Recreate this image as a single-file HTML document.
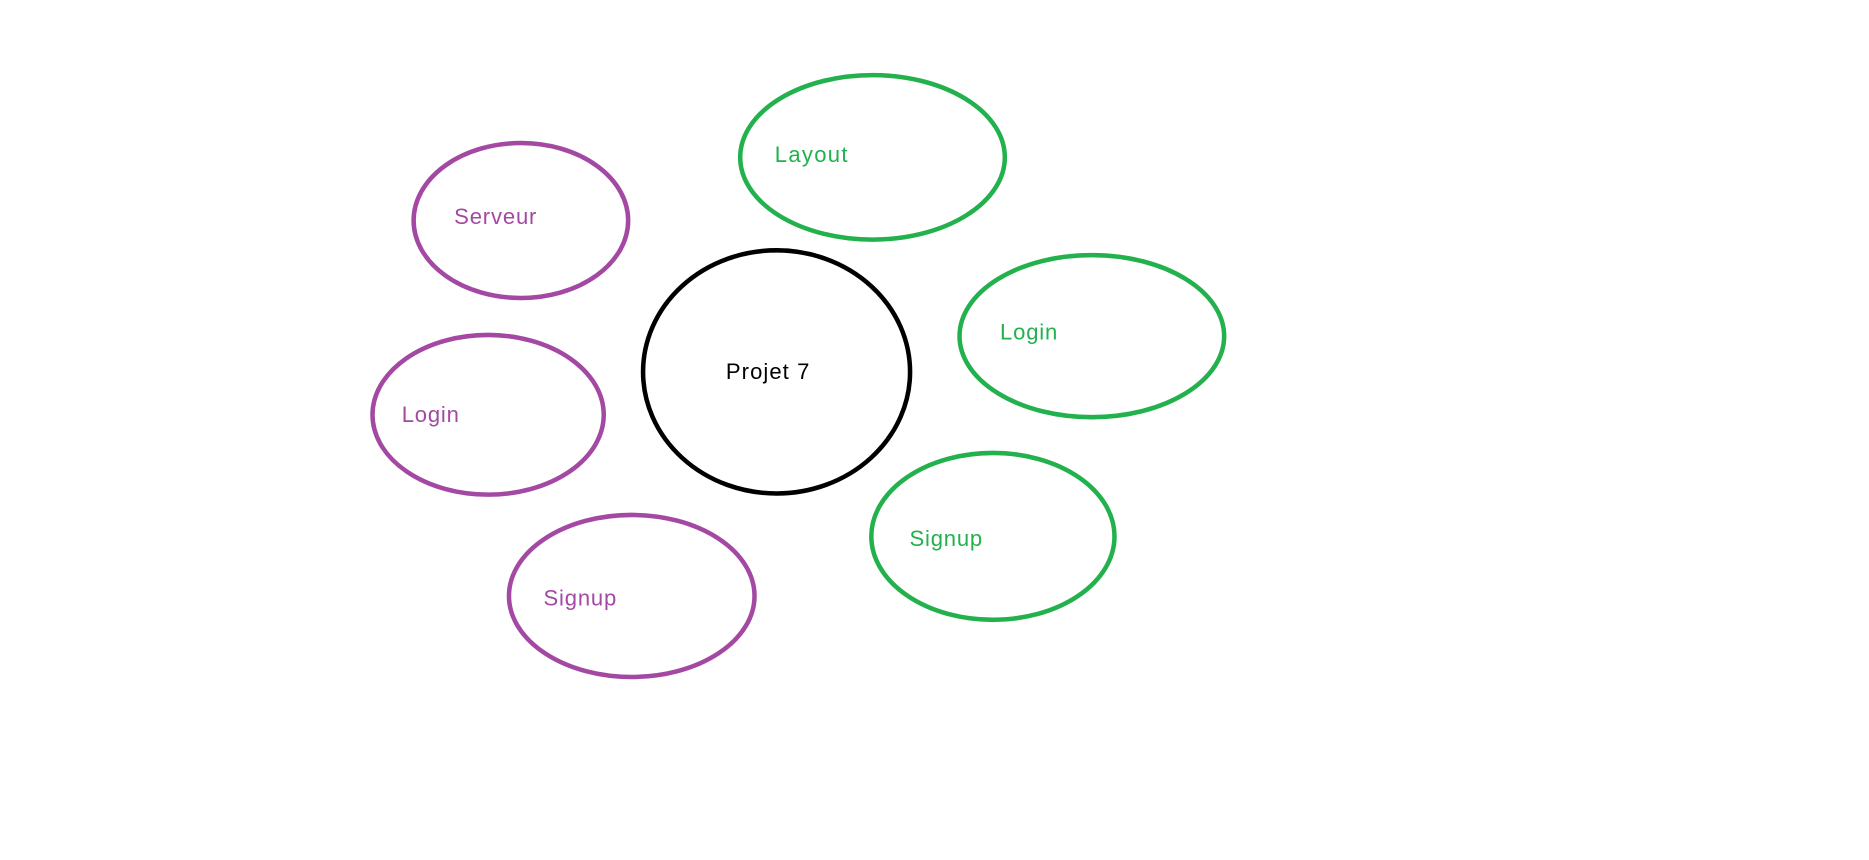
<!DOCTYPE html>
<html><head><style>
html,body{margin:0;padding:0;background:#fff;}
svg{display:block;}
text{font-family:"Liberation Sans",sans-serif;font-size:18.5px;}
</style></head><body>
<svg width="1869" height="860" viewBox="0 0 1568 721.5" preserveAspectRatio="none" xmlns="http://www.w3.org/2000/svg">
<rect width="1568" height="721.5" fill="#fff"/>
<g fill="none" stroke-width="3.8">
<ellipse cx="437" cy="185" rx="90" ry="65" stroke="#a349a4"/>
<ellipse cx="732" cy="132" rx="111" ry="69" stroke="#22b14c"/>
<ellipse cx="651.5" cy="312" rx="112" ry="102" stroke="#000"/>
<ellipse cx="916" cy="282" rx="111" ry="68" stroke="#22b14c"/>
<ellipse cx="409.5" cy="348" rx="97" ry="67" stroke="#a349a4"/>
<ellipse cx="833" cy="450" rx="102" ry="70" stroke="#22b14c"/>
<ellipse cx="530" cy="500" rx="103" ry="68" stroke="#a349a4"/>
</g>
<text x="381" y="188" fill="#a349a4" textLength="69">Serveur</text>
<text x="650" y="136" fill="#22b14c" textLength="61">Layout</text>
<text x="609" y="318" fill="#000" textLength="70">Projet 7</text>
<text x="839" y="285" fill="#22b14c" textLength="48">Login</text>
<text x="337" y="354" fill="#a349a4" textLength="48">Login</text>
<text x="763" y="458" fill="#22b14c" textLength="61">Signup</text>
<text x="456" y="508" fill="#a349a4" textLength="61">Signup</text>
</svg>
</body></html>
